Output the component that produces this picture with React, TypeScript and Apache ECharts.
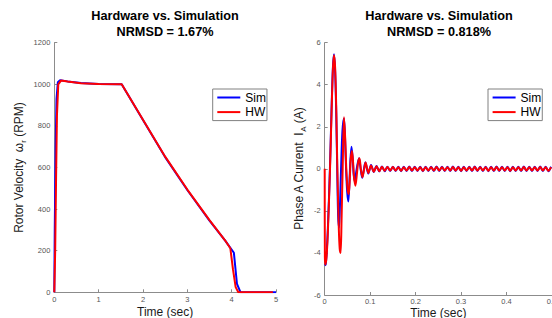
import React, { useEffect, useRef } from 'react';
import * as echarts from 'echarts';

// ---------- Left plot: rotor velocity (RPM) vs time (sec) ----------
const velSimT = [0, 0.01, 0.03, 0.05, 0.08, 0.13, 0.3, 0.6, 1.0, 1.52, 2.0, 2.5, 3.0, 3.5, 3.85, 4.05, 4.12, 4.2, 5.0];
const velSim = [0, 300, 700, 930, 1010, 1020, 1014, 1006, 1002, 1000, 828, 650, 492, 345, 250, 190, 40, 0, 0];
const velHwT = [0, 0.02, 0.04, 0.06, 0.09, 0.15, 0.3, 0.6, 1.0, 1.52, 2.0, 2.5, 3.0, 3.5, 3.85, 3.97, 4.03, 4.09, 4.15, 4.93];
const velHw = [0, 200, 550, 850, 1000, 1018, 1013, 1005, 1001, 1000, 830, 652, 494, 347, 250, 212, 110, 25, 0, 0];

// ---------- Right plot: phase A current (A) vs time (sec) ----------
const curSimT = [0, 0.002, 0.004, 0.007, 0.0115, 0.015, 0.018, 0.0204, 0.023, 0.0255, 0.0275, 0.0295, 0.0315, 0.0335, 0.036, 0.039, 0.0424, 0.045, 0.047, 0.0495, 0.052, 0.0545, 0.0565, 0.059, 0.0615, 0.0635, 0.066, 0.069, 0.072, 0.0755, 0.079, 0.0825, 0.086, 0.0895];
const curSim = [-4.6, -4.55, -4.1, -2.8, 0, 2.8, 4.8, 5.45, 4.6, 2.5, 0, -2.2, -2.8, -1.8, 0, 1.8, 2.4, 1.3, 0, -1.1, -1.55, -0.6, 0.4, 1.05, 0.5, -0.2, -0.6, -0.2, 0.2, 0.5, 0, -0.42, -0.05, 0.3];
const curHwT = [0, 0.0004, 0.0015, 0.004, 0.007, 0.0117, 0.015, 0.018, 0.0204, 0.023, 0.0255, 0.0278, 0.031, 0.033, 0.035, 0.037, 0.0395, 0.0424, 0.045, 0.0475, 0.0505, 0.053, 0.0555, 0.0575, 0.06, 0.0625, 0.0645, 0.0675, 0.071, 0.0735, 0.0765, 0.0795, 0.083, 0.0865, 0.09];
const curHw = [0, -4.2, -4.55, -4.2, -3.0, 0, 2.6, 4.7, 5.4, 4.8, 2.8, 0, -2.8, -3.8, -4.0, -2.5, 0, 2.45, 1.5, 0, -1.0, -1.2, -0.3, 0.5, 0.85, 0.3, -0.4, -0.8, -0.2, 0.3, 0.5, 0, -0.4, -0.05, 0.3];

const rippleT = [
  0.096, 0.102, 0.108, 0.114, 0.120, 0.126, 0.132, 0.138, 0.144, 0.150,
  0.156, 0.162, 0.168, 0.174, 0.180, 0.186, 0.192, 0.198, 0.204, 0.210,
  0.216, 0.222, 0.228, 0.234, 0.240, 0.246, 0.252, 0.258, 0.264, 0.270,
  0.276, 0.282, 0.288, 0.294, 0.300, 0.306, 0.312, 0.318, 0.324, 0.330,
  0.336, 0.342, 0.348, 0.354, 0.360, 0.366, 0.372, 0.378, 0.384, 0.390,
  0.396, 0.402, 0.408, 0.414, 0.420, 0.426, 0.432, 0.438, 0.444, 0.450,
  0.456, 0.462, 0.468, 0.474, 0.480, 0.486, 0.492, 0.498,
];
const simRipple = [
  -0.22, 0.18, -0.15, 0.13, -0.12, 0.11, -0.11, 0.10, -0.10, 0.10,
  -0.10, 0.10, -0.11, 0.10, -0.10, 0.11, -0.10, 0.10, -0.10, 0.10,
  -0.11, 0.10, -0.10, 0.10, -0.10, 0.11, -0.10, 0.10, -0.10, 0.10,
  -0.10, 0.11, -0.10, 0.10, -0.11, 0.10, -0.10, 0.10, -0.10, 0.11,
  -0.10, 0.10, -0.10, 0.10, -0.11, 0.10, -0.10, 0.11, -0.10, 0.10,
  -0.10, 0.10, -0.11, 0.10, -0.10, 0.10, -0.10, 0.11, -0.10, 0.10,
  -0.10, 0.10, -0.10, 0.11, -0.10, 0.10, -0.11, 0.10,
];
const hwRipple = [
  -0.20, 0.16, -0.14, 0.12, -0.11, 0.10, -0.09, 0.09, -0.08, 0.09,
  -0.08, 0.08, -0.09, 0.08, -0.08, 0.09, -0.08, 0.08, -0.08, 0.08,
  -0.09, 0.08, -0.08, 0.08, -0.08, 0.09, -0.08, 0.08, -0.08, 0.08,
  -0.08, 0.09, -0.08, 0.08, -0.09, 0.08, -0.08, 0.08, -0.08, 0.09,
  -0.08, 0.08, -0.08, 0.08, -0.09, 0.08, -0.08, 0.09, -0.08, 0.08,
  -0.08, 0.08, -0.09, 0.08, -0.08, 0.08, -0.08, 0.09, -0.08, 0.08,
  -0.08, 0.08, -0.08, 0.09, -0.08, 0.08, -0.09, 0.08,
];

const seriesNames = ['Sim', 'HW'];
const titles = ['Hardware vs. Simulation\nNRMSD = 1.67%', 'Hardware vs. Simulation\nNRMSD = 0.818%'];

const FONT = '"Liberation Sans", Arial, sans-serif';
const AXIS = '#8c8c8c';
const BLUE = '#0000ff';
const RED = '#ff0000';

const zip = (t: number[], v: number[]) => t.map((x, i) => [x, v[i]]);
const plain = (v: number) => String(Math.round(v * 1000) / 1000);

function xAxis(gridIndex: number, max: number, interval: number, nameGap: number, labelMargin: number) {
  return {
    type: 'value', gridIndex, min: 0, max, interval,
    name: 'Time (sec)', nameLocation: 'middle', nameGap, nameMoveOverlap: false,
    nameTextStyle: { fontFamily: FONT, fontSize: 12, color: '#1a1a1a', verticalAlign: 'top', lineHeight: 13 },
    axisLine: { show: true, onZero: false, lineStyle: { color: AXIS, width: 1 } },
    axisTick: { show: true, inside: true, length: 3, lineStyle: { color: AXIS } },
    axisLabel: { fontFamily: FONT, fontSize: 7.5, lineHeight: 8, color: '#555', margin: labelMargin, formatter: plain },
    splitLine: { show: false },
  };
}

function yAxis(gridIndex: number, min: number, max: number, interval: number, name: string, nameGap: number) {
  return {
    type: 'value', gridIndex, min, max, interval,
    name, nameLocation: 'middle', nameGap, nameMoveOverlap: false,
    nameTextStyle: {
      fontFamily: FONT, fontSize: 12, color: '#1a1a1a',
      rich: {
        a: { fontFamily: FONT, fontSize: 12, color: '#1a1a1a', lineHeight: 16, verticalAlign: 'middle' },
        s: { fontFamily: FONT, fontSize: 8, color: '#1a1a1a', lineHeight: 8, verticalAlign: 'bottom' },
      },
    },
    axisLine: { show: true, onZero: false, lineStyle: { color: AXIS, width: 1 } },
    axisTick: { show: true, inside: true, length: 3, lineStyle: { color: AXIS } },
    axisLabel: { fontFamily: FONT, fontSize: 7.5, color: '#555', margin: 4, formatter: plain },
    splitLine: { show: false },
  };
}

function legend(left: number) {
  return {
    data: seriesNames, orient: 'vertical', left, top: 89,
    padding: [2, 1, 2, 4.6], itemGap: 1.6, itemWidth: 23, itemHeight: 2, icon: 'rect',
    borderColor: '#808080', borderWidth: 1, backgroundColor: '#fff', selectedMode: false,
    textStyle: { fontFamily: FONT, fontSize: 12, color: '#000', lineHeight: 13 },
  };
}

function line(name: string, color: string, data: number[][], axisIndex: number, smooth: number | boolean) {
  return {
    type: 'line', name, xAxisIndex: axisIndex, yAxisIndex: axisIndex, data,
    showSymbol: false, symbol: 'none', smooth,
    lineStyle: { color, width: 2 }, itemStyle: { color },
  };
}

export default function App() {
  const ref = useRef<HTMLDivElement>(null);
  useEffect(() => {
    document.body.style.margin = '0';
    const chart = echarts.init(ref.current!, null, { renderer: 'svg' });
    const option = {
      animation: false,
      backgroundColor: '#fff',
      grid: [
        { left: 54.3, top: 42.7, width: 221.7, height: 249.6, outerBoundsMode: 'none', containLabel: false },
        { left: 324.7, top: 42.7, width: 227.3, height: 252.3, outerBoundsMode: 'none', containLabel: false },
      ],
      xAxis: [xAxis(0, 5, 1, 13, 3), xAxis(1, 0.5, 0.1, 11, 2)],
      yAxis: [
        yAxis(0, 0, 1200, 200, '{a|Rotor Velocity  ω}{s|r}{a| (RPM)}', 27),
        yAxis(1, -6, 6, 2, '{a|Phase A Current  I}{s|A}{a| (A)}', 17.5),
      ],
      legend: [legend(212.7), legend(488)],
      graphic: titles.map((t, i) => ({
        type: 'text', x: i === 0 ? 165 : 439, y: 8,
        style: {
          text: t, align: 'center', verticalAlign: 'top',
          fontFamily: FONT, fontWeight: 'bold', fontSize: 12.7, lineHeight: 16, fill: '#000',
        },
      })),
      series: [
        line(seriesNames[0], BLUE, zip(velSimT, velSim), 0, false),
        line(seriesNames[1], RED, zip(velHwT, velHw), 0, false),
        line(seriesNames[0], BLUE, zip(curSimT.concat(rippleT), curSim.concat(simRipple)), 1, 0.3),
        line(seriesNames[1], RED, zip(curHwT.concat(rippleT), curHw.concat(hwRipple)), 1, 0.3),
      ],
    };
    chart.setOption(option as any);
    return () => chart.dispose();
  }, []);
  return <div ref={ref} style={{ width: 552, height: 318 }} />;
}
